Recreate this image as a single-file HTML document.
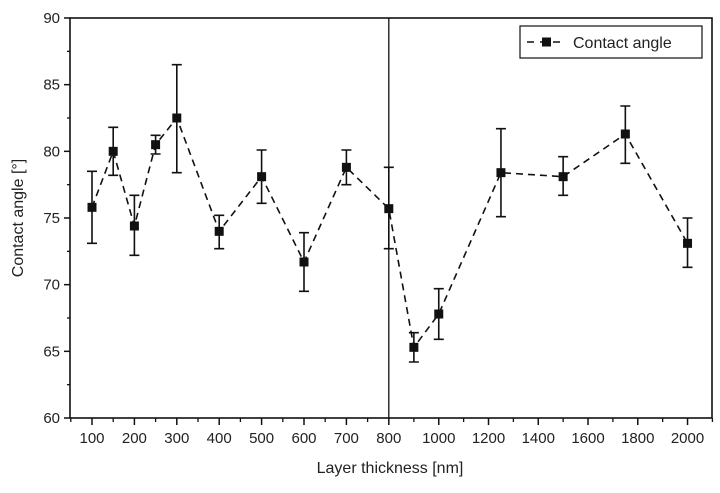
<!DOCTYPE html>
<html><head><meta charset="utf-8"><style>
body{margin:0;background:#fff;}
svg text{font-family:"Liberation Sans",Arial,sans-serif;fill:#222;}
</style></head><body>
<svg id="chart" width="720" height="488" viewBox="0 0 720 488" xmlns="http://www.w3.org/2000/svg">
<g id="g"></g>
</svg>
<script>
const thickness=[100,150,200,250,300,400,500,600,700,800,900,1000,1250,1500,1750,2000];
const angle=[75.8,80.0,74.4,80.5,82.5,74.0,78.1,71.7,78.8,75.7,65.3,67.8,78.4,78.1,81.3,73.1];
const errLow=[73.1,78.2,72.2,79.8,78.4,72.7,76.1,69.5,77.5,72.7,64.2,65.9,75.1,76.7,79.1,71.3];
const errHigh=[78.5,81.8,76.7,81.2,86.5,75.2,80.1,73.9,80.1,78.8,66.4,69.7,81.7,79.6,83.4,75.0];
const xTickLabels=[100,200,300,400,500,600,700,800,1000,1200,1400,1600,1800,2000];
const xMinorTicks=[50,150,250,350,450,550,650,750,900,1100,1300,1500,1700,1900,2100];
const yTickLabels=[60,65,70,75,80,85,90];

const L=70,R=712,T=18,B=418;
function x(v){return v<=800?92+(v-100)*0.424:389+(v-800)*0.2675*0.93;}
function y(v){return B-(v-60)*(B-T)/30;}
const NS="http://www.w3.org/2000/svg",g=document.getElementById('g');
function el(t,a,p){const e=document.createElementNS(NS,t);for(const k in a)e.setAttribute(k,a[k]);(p||g).appendChild(e);return e;}

const frame=el('rect',{x:L,y:T,width:R-L,height:B-T,fill:'none',stroke:'#111','stroke-width':1.6});


const div=el('line',{x1:x(800),x2:x(800),y1:T,y2:B,stroke:'#111','stroke-width':1.3});



xTickLabels.forEach(v=>{
  const t=el('line',{x1:x(v),x2:x(v),y1:B,y2:B+7,stroke:'#111','stroke-width':1.5});
  
  
  const tx=el('text',{x:x(v),y:B+25,'text-anchor':'middle','font-size':15});
  tx.textContent=v;
  
  
});
xMinorTicks.forEach(v=>{
  const t=el('line',{x1:x(v),x2:x(v),y1:B,y2:B+4,stroke:'#111','stroke-width':1.3});
  
  
});
yTickLabels.forEach(v=>{
  const t=el('line',{x1:L-6,x2:L,y1:y(v),y2:y(v),stroke:'#111','stroke-width':1.5});
  
  
  const tx=el('text',{x:L-10,y:y(v)+5,'text-anchor':'end','font-size':15});
  tx.textContent=v;
  
  
  if(v<90){const m=el('line',{x1:L-3,x2:L,y1:y(v+2.5),y2:y(v+2.5),stroke:'#111','stroke-width':1.3});
  
  }
});

const pts=thickness.map((v,i)=>x(v)+','+y(angle[i])).join(' ');
const line=el('polyline',{points:pts,fill:'none',stroke:'#111','stroke-width':1.6,'stroke-dasharray':'7,5'});


thickness.forEach((v,i)=>{
  const cx=x(v);
  const e=el('path',{d:`M${cx},${y(errLow[i])}V${y(errHigh[i])}M${cx-5},${y(errLow[i])}h10M${cx-5},${y(errHigh[i])}h10`,stroke:'#111','stroke-width':1.6,fill:'none'});
  
  
  const m=el('rect',{x:cx-4.5,y:y(angle[i])-4.5,width:9,height:9,fill:'#111'});
  
  
});

const xt=el('text',{x:390,y:473,'text-anchor':'middle','font-size':16});
xt.textContent='Layer thickness [nm]';


const yt=el('text',{x:0,y:0,'text-anchor':'middle','font-size':16,transform:'translate(23,218) rotate(-90)'});
yt.textContent='Contact angle [°]';



const lg=el('g',{});


el('rect',{x:520,y:26,width:182,height:32,fill:'#fff',stroke:'#111','stroke-width':1.2},lg);
el('line',{x1:527,x2:566,y1:42,y2:42,stroke:'#111','stroke-width':1.6,'stroke-dasharray':'7,6'},lg);
el('rect',{x:542,y:37.5,width:9,height:9,fill:'#111'},lg);
const lt=el('text',{x:573,y:48,'font-size':16},lg);
lt.textContent='Contact angle';


</script>
</body></html>
